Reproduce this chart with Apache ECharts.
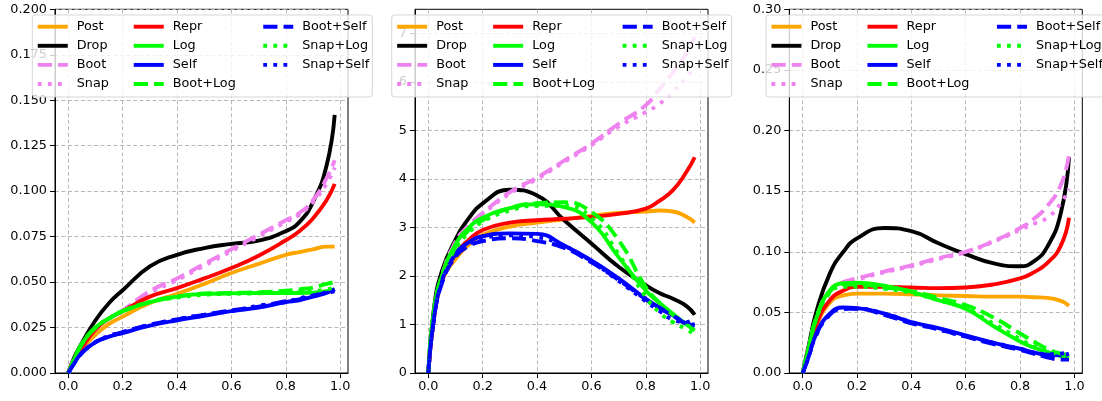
<!DOCTYPE html>
<html>
<head>
<meta charset="utf-8">
<script src="https://cdn.jsdelivr.net/npm/echarts@6/dist/echarts.min.js"></script>
<style>
html,body{margin:0;padding:0;background:#fff;}
#chart{width:1102px;height:401px;}
</style>
</head>
<body>
<div id="chart"></div>
<script>
// ---- data ----
const xs = [0, 0.02, 0.05, 0.1, 0.15, 0.2, 0.3, 0.4, 0.5, 0.6, 0.7, 0.8, 0.85, 0.9, 0.95, 0.98];
const xTicks = [0, 0.2, 0.4, 0.6, 0.8, 1.0];
const yTicks1 = [0, 0.025, 0.05, 0.075, 0.1, 0.125, 0.15, 0.175, 0.2];
const yTicks2 = [0, 1, 2, 3, 4, 5, 6, 7];
const yTicks3 = [0, 0.05, 0.1, 0.15, 0.2, 0.25, 0.3];
const seriesNames = ['Post', 'Drop', 'Boot', 'Snap', 'Repr', 'Log', 'Self', 'Boot+Log', 'Boot+Self', 'Snap+Log', 'Snap+Self'];

// panel 1
const p1_post     = [0, 0.006, 0.013, 0.021, 0.027, 0.031, 0.0385, 0.0435, 0.049, 0.055, 0.060, 0.065, 0.0665, 0.068, 0.0695, 0.0695];
const p1_drop     = [0, 0.008, 0.0165, 0.029, 0.0385, 0.0455, 0.0586, 0.065, 0.0687, 0.071, 0.0728, 0.078, 0.083, 0.094, 0.114, 0.142];
const p1_boot     = [0, 0.007, 0.014, 0.024, 0.030, 0.0344, 0.045, 0.052, 0.060, 0.068, 0.076, 0.084, 0.088, 0.095, 0.107, 0.117];
const p1_snap     = [0, 0.007, 0.014, 0.024, 0.030, 0.034, 0.044, 0.051, 0.059, 0.067, 0.075, 0.083, 0.087, 0.094, 0.104, 0.113];
const p1_repr     = [0, 0.007, 0.014, 0.024, 0.030, 0.034, 0.042, 0.0467, 0.052, 0.0577, 0.0645, 0.073, 0.078, 0.085, 0.095, 0.104];
const p1_log      = [0, 0.007, 0.016, 0.025, 0.030, 0.034, 0.039, 0.042, 0.0435, 0.0438, 0.044, 0.044, 0.044, 0.0442, 0.045, 0.046];
const p1_self     = [0, 0.005, 0.011, 0.017, 0.020, 0.022, 0.026, 0.029, 0.0315, 0.034, 0.036, 0.039, 0.040, 0.042, 0.044, 0.046];
const p1_bootlog  = [0, 0.007, 0.016, 0.025, 0.030, 0.034, 0.039, 0.042, 0.0437, 0.044, 0.0445, 0.0452, 0.046, 0.047, 0.049, 0.050];
const p1_bootself = [0, 0.005, 0.011, 0.017, 0.020, 0.0225, 0.0265, 0.0295, 0.032, 0.0345, 0.0365, 0.0395, 0.0405, 0.0425, 0.0445, 0.046];
const p1_snaplog  = [0, 0.007, 0.016, 0.025, 0.030, 0.034, 0.039, 0.0415, 0.043, 0.0435, 0.0438, 0.0442, 0.0445, 0.045, 0.046, 0.047];
const p1_snapself = [0, 0.005, 0.011, 0.017, 0.0205, 0.0225, 0.0265, 0.0295, 0.032, 0.034, 0.037, 0.039, 0.041, 0.0425, 0.044, 0.045];

// panel 2
const p2_post     = [0, 1.1, 1.9, 2.35, 2.65, 2.85, 3.02, 3.1, 3.17, 3.24, 3.3, 3.33, 3.35, 3.33, 3.22, 3.1];
const p2_drop     = [0, 1.3, 2.1, 2.75, 3.2, 3.5, 3.78, 3.66, 3.15, 2.67, 2.19, 1.81, 1.65, 1.53, 1.38, 1.2];
const p2_boot     = [0, 1.2, 2.0, 2.7, 3.05, 3.3, 3.73, 4.03, 4.38, 4.73, 5.14, 5.52, 5.85, 6.2, 6.6, 6.93];
const p2_snap     = [0, 1.2, 2.0, 2.7, 3.05, 3.28, 3.7, 4.0, 4.35, 4.7, 5.08, 5.38, 5.55, 5.8, 6.1, 6.3];
const p2_repr     = [0, 1.1, 1.9, 2.45, 2.75, 2.95, 3.1, 3.15, 3.18, 3.22, 3.28, 3.39, 3.55, 3.77, 4.15, 4.45];
const p2_log      = [0, 1.25, 2.0, 2.65, 3.0, 3.2, 3.4, 3.48, 3.42, 3.11, 2.39, 1.7, 1.45, 1.22, 1.0, 0.88];
const p2_self     = [0, 1.1, 1.9, 2.45, 2.7, 2.82, 2.88, 2.87, 2.63, 2.32, 1.95, 1.53, 1.35, 1.19, 1.02, 0.98];
const p2_bootlog  = [0, 1.25, 2.0, 2.6, 2.95, 3.15, 3.4, 3.5, 3.52, 3.32, 2.74, 1.77, 1.45, 1.2, 1.0, 0.88];
const p2_bootself = [0, 1.1, 1.85, 2.4, 2.62, 2.72, 2.78, 2.72, 2.58, 2.28, 1.92, 1.52, 1.34, 1.18, 1.02, 1.0];
const p2_snaplog  = [0, 1.2, 1.95, 2.55, 2.9, 3.12, 3.35, 3.45, 3.45, 3.2, 2.45, 1.57, 1.25, 1.05, 0.9, 0.8];
const p2_snapself = [0, 1.1, 1.88, 2.42, 2.66, 2.78, 2.84, 2.8, 2.62, 2.3, 1.9, 1.48, 1.28, 1.1, 1.05, 1.15];

// panel 3
const p3_post     = [0, 0.015, 0.038, 0.058, 0.064, 0.0655, 0.0655, 0.065, 0.064, 0.0635, 0.063, 0.063, 0.0625, 0.062, 0.0595, 0.0555];
const p3_drop     = [0, 0.02, 0.05, 0.082, 0.1, 0.111, 0.1196, 0.117, 0.107, 0.098, 0.0906, 0.088, 0.092, 0.104, 0.132, 0.178];
const p3_boot     = [0, 0.018, 0.045, 0.068, 0.075, 0.078, 0.0837, 0.0887, 0.0948, 0.100, 0.1086, 0.1196, 0.127, 0.1376, 0.155, 0.18];
const p3_snap     = [0, 0.018, 0.045, 0.068, 0.074, 0.077, 0.083, 0.088, 0.094, 0.0995, 0.108, 0.118, 0.123, 0.128, 0.14, 0.152];
const p3_repr     = [0, 0.016, 0.04, 0.06, 0.068, 0.071, 0.071, 0.0705, 0.070, 0.0705, 0.073, 0.078, 0.083, 0.0906, 0.105, 0.128];
const p3_log      = [0, 0.018, 0.045, 0.068, 0.074, 0.0745, 0.072, 0.067, 0.06, 0.053, 0.039, 0.026, 0.021, 0.0174, 0.014, 0.012];
const p3_self     = [0, 0.012, 0.032, 0.049, 0.054, 0.0535, 0.049, 0.042, 0.037, 0.031, 0.025, 0.020, 0.017, 0.015, 0.0146, 0.016];
const p3_bootlog  = [0, 0.018, 0.045, 0.067, 0.073, 0.073, 0.0705, 0.0675, 0.062, 0.056, 0.046, 0.0326, 0.026, 0.020, 0.016, 0.015];
const p3_bootself = [0, 0.012, 0.032, 0.048, 0.053, 0.053, 0.048, 0.041, 0.036, 0.030, 0.024, 0.019, 0.016, 0.013, 0.011, 0.011];
const p3_snaplog  = [0, 0.018, 0.044, 0.066, 0.071, 0.071, 0.0695, 0.066, 0.06, 0.053, 0.041, 0.028, 0.022, 0.018, 0.015, 0.013];
const p3_snapself = [0, 0.012, 0.031, 0.048, 0.053, 0.053, 0.049, 0.042, 0.036, 0.030, 0.025, 0.020, 0.017, 0.0155, 0.016, 0.017];

const panels = [
  [p1_post, p1_drop, p1_boot, p1_snap, p1_repr, p1_log, p1_self, p1_bootlog, p1_bootself, p1_snaplog, p1_snapself],
  [p2_post, p2_drop, p2_boot, p2_snap, p2_repr, p2_log, p2_self, p2_bootlog, p2_bootself, p2_snaplog, p2_snapself],
  [p3_post, p3_drop, p3_boot, p3_snap, p3_repr, p3_log, p3_self, p3_bootlog, p3_bootself, p3_snaplog, p3_snapself]
];

// ---- styles ----
const DASH = [14.2, 6.1], DOT = [3.8, 6.3];
const styles = [
  {c: '#FFA500', t: 'solid'}, {c: '#000000', t: 'solid'}, {c: '#EE82EE', t: DASH}, {c: '#EE82EE', t: DOT},
  {c: '#FF0000', t: 'solid'}, {c: '#00FF00', t: 'solid'}, {c: '#0000FF', t: 'solid'}, {c: '#00FF00', t: DASH},
  {c: '#0000FF', t: DASH}, {c: '#00FF00', t: DOT}, {c: '#0000FF', t: DOT}
];
const LW = 3.9;
const FONT = 'DejaVu Sans';
const FS = 12.8;

const gridLeft = [55, 415, 789.3];
const gridTop = 9.3, gridH = 363.7, gridW = 293;
const yMax = [0.2, 7.5, 0.3];
const yTickSets = [yTicks1, yTicks2, yTicks3];
const yDec = [3, 0, 2];

const grids = [], xAxes = [], yAxes = [], series = [];
for (let p = 0; p < 3; p++) {
  grids.push({left: gridLeft[p], top: gridTop, width: gridW, height: gridH, show: true,
    borderColor: '#000', borderWidth: 1, backgroundColor: 'transparent', containLabel: false});
  xAxes.push({type: 'value', gridIndex: p, min: -0.049, max: 1.029,
    axisLine: {show: true, onZero: false, lineStyle: {color: '#000', width: 1}},
    axisTick: {show: true, length: 5, customValues: xTicks, lineStyle: {color: '#000', width: 1}},
    axisLabel: {show: true, customValues: xTicks, margin: 7, color: '#000', fontFamily: FONT, fontSize: FS,
      formatter: v => Number(v).toFixed(1)},
    splitLine: {show: true, lineStyle: {color: '#b0b0b0', width: 0.9, type: [4, 2.5]}}
  });
  yAxes.push({type: 'value', gridIndex: p, min: 0, max: yMax[p],
    axisLine: {show: true, onZero: false, lineStyle: {color: '#000', width: 1}},
    axisTick: {show: true, length: 5, customValues: yTickSets[p], lineStyle: {color: '#000', width: 1}},
    axisLabel: {show: true, customValues: yTickSets[p], margin: 8, color: '#000', fontFamily: FONT, fontSize: FS,
      formatter: (v => Number(v).toFixed(yDec[p]))},
    splitLine: {show: true, lineStyle: {color: '#b0b0b0', width: 0.9, type: [4, 2.5]}}
  });
  panels[p].forEach((vals, i) => {
    series.push({
      type: 'line', name: seriesNames[i], xAxisIndex: p, yAxisIndex: p,
      data: xs.map((x, k) => [x, vals[k]]),
      smooth: 0.5, symbol: 'none', showSymbol: false,
      lineStyle: {color: styles[i].c, width: LW, type: styles[i].t, cap: 'butt', join: 'round'},
      itemStyle: {color: styles[i].c},
      silent: true, animation: false
    });
  });
}

// legends: three columns per panel
const legendBoxLeft = [32.3, 391.7, 766];
const colOffsets = [3.5, 99.5, 229];
const cols = [seriesNames.slice(0, 4), seriesNames.slice(4, 8), seriesNames.slice(8, 11)];
const legends = [];
const graphics = [];
for (let p = 0; p < 3; p++) {
  graphics.push({type: 'rect', z: 50, silent: true,
    shape: {x: legendBoxLeft[p], y: 15, width: 340, height: 82, r: 3},
    style: {fill: 'rgba(255,255,255,0.8)', stroke: 'rgba(204,204,204,0.8)', lineWidth: 1}});
  for (let c = 0; c < 3; c++) {
    legends.push({
      orient: 'vertical', left: legendBoxLeft[p] + colOffsets[c], top: 19.7, padding: 0,
      itemWidth: 30, itemHeight: 14, itemGap: 5.1, z: 60, selectedMode: false,
      data: cols[c],
      itemStyle: {opacity: 0},
      lineStyle: {width: LW},
      textStyle: {color: '#000', fontFamily: FONT, fontSize: FS, lineHeight: 14, padding: [0, 0, 0, 4]}
    });
  }
}

const chart = echarts.init(document.getElementById('chart'), null, {renderer: 'canvas'});
chart.setOption({
  animation: false,
  backgroundColor: '#fff',
  grid: grids, xAxis: xAxes, yAxis: yAxes, series: series,
  legend: legends,
  graphic: {elements: graphics}
});
</script>
</body>
</html>
